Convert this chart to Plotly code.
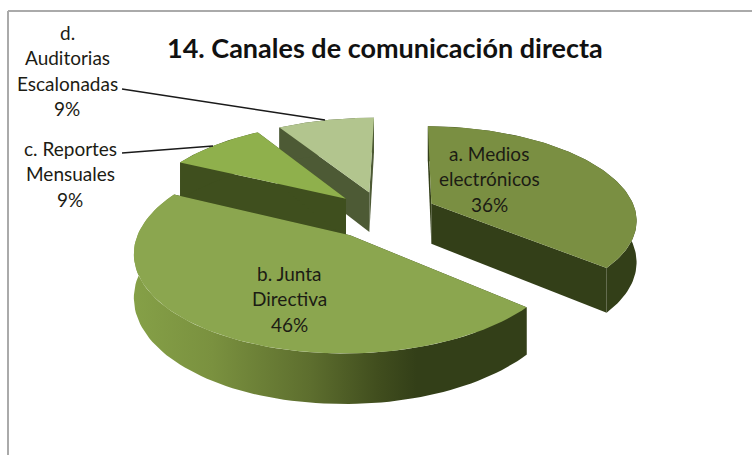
import numpy as np
import plotly.graph_objects as go

# ---- data ----
title_text = "14. Canales de comunicación directa"
categories = ["a. Medios electrónicos", "b. Junta Directiva",
              "c. Reportes Mensuales", "d. Auditorias Escalonadas"]
values = [36, 46, 9, 9]
label_lines = [["a. Medios", "electrónicos"], ["b. Junta", "Directiva"],
               ["c. Reportes", "Mensuales"], ["d.", "Auditorias", "Escalonadas"]]

# ---- styling / projection ----
top_colors = ["#7a8f42", "#8ba64f", "#8fb04c", "#b2c58e"]
wall_colors = ["#333f18", "#333f18", "#3f4f1e", "#4d5a35"]
label_x = [489, 289, 70, 67]
label_y = [153, 273, 148, 32]
explode = [55, 56, 50, 50]
CX, CY, R, P, Q, DEPTH = 382, 213.5, 205, 0.155, 0.45, 41
ROTATION = np.radians(1.0)
LINE_STEP = 25.5
FONT = "Lato"


def project(u, w, z=0.0):
    s = 1 / (1 - P * w)
    return CX + u * s, CY + Q * R * w * s + z * s


fractions = np.array(values, dtype=float) / sum(values)
ends = np.cumsum(fractions) * 2 * np.pi + ROTATION
starts = ends - fractions * 2 * np.pi
slices = []
for t0, t1, e in zip(starts, ends, explode):
    mid = (t0 + t1) / 2
    slices.append(dict(t0=t0, t1=t1, cu=e * np.sin(mid), cw=-e * np.cos(mid) / R))


def rim(sl, z=0.0):
    t = np.linspace(sl["t0"], sl["t1"], 90)
    return project(sl["cu"] + R * np.sin(t), sl["cw"] - np.cos(t), z)


def poly(x, y, color=None, gradient=None):
    kw = dict(fillgradient=gradient) if gradient else dict(fillcolor=color)
    return go.Scatter(x=list(x) + [x[0]], y=list(y) + [y[0]], mode="lines", fill="toself",
                      line=dict(width=0), hoverinfo="skip", showlegend=False, **kw)


fig = go.Figure()
# draw order: back slices first (d, c), then a, then b
for idx in [3, 2, 0, 1]:
    sl = slices[idx]
    ax, ay = project(sl["cu"], sl["cw"])
    bx, by = project(sl["cu"], sl["cw"], DEPTH)
    rx, ry = rim(sl)
    lx, ly = rim(sl, DEPTH)
    # radial walls
    for k in (0, -1):
        fig.add_trace(poly([ax, rx[k], lx[k], bx], [ay, ry[k], ly[k], by], wall_colors[idx]))
    # outer wall
    ox = np.concatenate([rx, lx[::-1]])
    oy = np.concatenate([ry, ly[::-1]])
    if idx == 1:
        grad = dict(type="horizontal",
                    colorscale=[[0, "#85a047"], [0.2, "#7a913f"], [0.45, "#5d6e2e"],
                                [0.62, "#414e1e"], [0.72, "#333f18"], [1, "#333f18"]])
        fig.add_trace(poly(ox, oy, gradient=grad))
    else:
        fig.add_trace(poly(ox, oy, wall_colors[idx]))
    # top face
    fig.add_trace(poly(np.concatenate([[ax], rx]), np.concatenate([[ay], ry]), top_colors[idx]))

# labels, one line at a time
for i, lines in enumerate(label_lines):
    all_lines = lines + [f"{values[i]}%"]
    for j, txt in enumerate(all_lines):
        fig.add_annotation(x=label_x[i], y=label_y[i] + j * LINE_STEP, text=txt, showarrow=False,
                           xanchor="center", yanchor="middle",
                           font=dict(family=FONT, size=19, color="#1c1c14"))

fig.add_annotation(x=384.5, y=47, text=f"<b>{title_text}</b>", showarrow=False,
                   xanchor="center", yanchor="middle",
                   font=dict(family=FONT, size=27, color="#111111"))

shapes = [
    dict(type="line", x0=122, y0=89, x1=325, y1=120, line=dict(color="#1a1a1a", width=1.5)),
    dict(type="line", x0=122, y0=153, x1=213, y1=146, line=dict(color="#1a1a1a", width=1.5)),
    dict(type="line", x0=8, y0=11, x1=752, y1=11, line=dict(color="#aaaaaa", width=2)),
    dict(type="line", x0=8, y0=11, x1=8, y1=455, line=dict(color="#aaaaaa", width=2)),
]

fig.update_layout(
    width=752, height=455, margin=dict(l=0, r=0, t=0, b=0),
    paper_bgcolor="white", plot_bgcolor="white", showlegend=False, shapes=shapes,
    xaxis=dict(range=[0, 752], visible=False, fixedrange=True),
    yaxis=dict(range=[455, 0], visible=False, fixedrange=True),
)
fig.write_html("out.html", config={"displayModeBar": False},
               post_script="document.body.style.margin='0';document.body.style.overflow='hidden';")
